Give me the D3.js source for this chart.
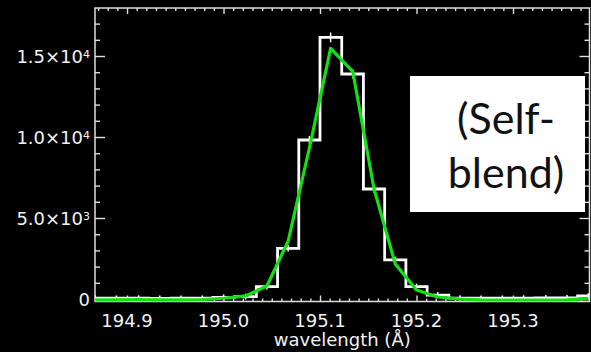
<!DOCTYPE html>
<html><head><meta charset="utf-8">
<script src="https://cdn.jsdelivr.net/npm/d3@7"></script>
<style>html,body{margin:0;padding:0;background:#000;}svg{display:block;}</style>
</head><body>
<svg id="chart" width="591" height="352"></svg>
<script>
// ---- data ----
const wavelengths = [194.867,194.889,194.912,194.934,194.956,194.978,195.000,195.023,195.045,195.067,195.089,195.111,195.134,195.156,195.178,195.200,195.222,195.245,195.267,195.289,195.311,195.334,195.356,195.378];
const counts      = [50,50,60,45,50,50,105,150,770,3130,9815,16150,13890,6790,2410,760,245,60,50,50,60,70,70,185];
const errors      = [170,170,170,170,170,170,175,180,190,200,250,300,280,230,200,190,180,170,170,170,170,170,170,175];
const fitValues   = [-50,-50,-40,-50,-50,-30,45,190,800,3580,9320,15475,14030,6790,2160,555,123,0,-50,-60,-60,-60,-50,40];
const xTickValues = [194.9,195.0,195.1,195.2,195.3];
const xTickLabels = ["194.9","195.0","195.1","195.2","195.3"];
const yTickValues = [0,5000,10000,15000];
const yTickMantissa = ["0","5.0×10","1.0×10","1.5×10"];
const yTickExponent = ["","3","4","4"];
const xTitle = "wavelength (Å)";
const noteLines = ["(Self-","blend)"];

// ---- layout ----
const W = 591, H = 352;
const plot = {left:95, right:589.5, top:8, bottom:301.5};
const axisColor = "#dedede";
const textColor = "#f2f2f2";

const svg = d3.select("#chart");
svg.append("rect").attr("width",W).attr("height",H).attr("fill","#000");

const x = d3.scaleLinear().domain([194.8668,195.3793]).range([plot.left, plot.right]);
const y = d3.scaleLinear().domain([-154,17963]).range([plot.bottom, plot.top]);

// clip
svg.append("defs").append("clipPath").attr("id","clip")
  .append("rect").attr("x",plot.left).attr("y",plot.top)
  .attr("width",plot.right-plot.left).attr("height",plot.bottom-plot.top+1.5);

// ---- axes ----
const xMinor = d3.range(194.87,195.375,0.01).map(v=>+v.toFixed(3)).filter(v=>!xTickValues.some(t=>Math.abs(t-v)<1e-6));
const yMinor = d3.range(1000,18000,1000).filter(v=>v%5000!==0);

function styleAxis(g){
  g.select(".domain").remove();
  g.selectAll("line").attr("stroke",axisColor).attr("stroke-width",1.4);
  g.selectAll("text").remove();
}
// bottom (ticks pointing up)
svg.append("g").attr("transform",`translate(0,${plot.bottom})`)
  .call(d3.axisTop(x).tickValues(xTickValues).tickSize(6).tickSizeOuter(0)).call(styleAxis);
svg.append("g").attr("transform",`translate(0,${plot.bottom})`)
  .call(d3.axisTop(x).tickValues(xMinor).tickSize(3).tickSizeOuter(0)).call(styleAxis);
// top (ticks pointing down)
svg.append("g").attr("transform",`translate(0,${plot.top})`)
  .call(d3.axisBottom(x).tickValues(xTickValues).tickSize(6).tickSizeOuter(0)).call(styleAxis);
svg.append("g").attr("transform",`translate(0,${plot.top})`)
  .call(d3.axisBottom(x).tickValues(xMinor).tickSize(3).tickSizeOuter(0)).call(styleAxis);
// left (ticks pointing right)
svg.append("g").attr("transform",`translate(${plot.left},0)`)
  .call(d3.axisRight(y).tickValues(yTickValues).tickSize(10).tickSizeOuter(0)).call(styleAxis);
svg.append("g").attr("transform",`translate(${plot.left},0)`)
  .call(d3.axisRight(y).tickValues(yMinor).tickSize(5).tickSizeOuter(0)).call(styleAxis);
// right (ticks pointing left)
svg.append("g").attr("transform",`translate(${plot.right},0)`)
  .call(d3.axisLeft(y).tickValues(yTickValues).tickSize(10).tickSizeOuter(0)).call(styleAxis);
svg.append("g").attr("transform",`translate(${plot.right},0)`)
  .call(d3.axisLeft(y).tickValues(yMinor).tickSize(5).tickSizeOuter(0)).call(styleAxis);

// frame
svg.append("rect").attr("x",plot.left).attr("y",plot.top)
  .attr("width",plot.right-plot.left).attr("height",plot.bottom-plot.top)
  .attr("fill","none").attr("stroke",axisColor).attr("stroke-width",1.5);

// tick labels
const font = "DejaVu Sans, sans-serif";
svg.append("g").selectAll("text").data(xTickValues).join("text")
  .attr("x",d=>x(d)).attr("y",326.5).attr("text-anchor","middle")
  .attr("font-family",font).attr("font-size",18).attr("fill",textColor)
  .text((d,i)=>xTickLabels[i]);

const yl = svg.append("g").selectAll("text").data(yTickValues).join("text")
  .attr("x",90).attr("y",d=>y(d)+6.5).attr("text-anchor","end")
  .attr("font-family",font).attr("font-size",18).attr("fill",textColor);
yl.append("tspan").text((d,i)=>yTickMantissa[i]);
yl.append("tspan").attr("font-size",11).attr("dy",-5).text((d,i)=>yTickExponent[i]);

svg.append("text").attr("x",(plot.left+plot.right)/2).attr("y",346)
  .attr("text-anchor","middle").attr("font-family",font).attr("font-size",18)
  .attr("fill",textColor).text(xTitle);

// ---- data marks ----
const data = wavelengths.map((w,i)=>({w, c:counts[i], e:errors[i], f:fitValues[i]}));
const dataG = svg.append("g").attr("clip-path","url(#clip)");

dataG.append("path").datum(data)
  .attr("d", d3.line().x(d=>x(d.w)).y(d=>y(d.c)).curve(d3.curveStep))
  .attr("fill","none").attr("stroke","#fff").attr("stroke-width",2.8).attr("stroke-linejoin","miter");

dataG.append("g").selectAll("line").data(data).join("line")
  .attr("x1",d=>x(d.w)).attr("x2",d=>x(d.w))
  .attr("y1",d=>y(d.c-d.e)).attr("y2",d=>y(d.c+d.e))
  .attr("stroke","#fff").attr("stroke-width",1.5);

dataG.append("path").datum(data)
  .attr("d", d3.line().x(d=>x(d.w)).y(d=>y(d.f)))
  .attr("fill","none").attr("stroke","#12e012").attr("stroke-width",3.2).attr("stroke-linejoin","round");

// ---- annotation box ----
svg.append("rect").attr("x",410).attr("y",76).attr("width",175).attr("height",136).attr("fill","#fff");
svg.append("g").selectAll("text").data(noteLines).join("text")
  .attr("x",506).attr("y",(d,i)=>134+i*54).attr("text-anchor","middle")
  .attr("font-family","Lato, 'Open Sans', sans-serif").attr("font-size",43).attr("fill","#111")
  .text(d=>d);
</script>
</body></html>
